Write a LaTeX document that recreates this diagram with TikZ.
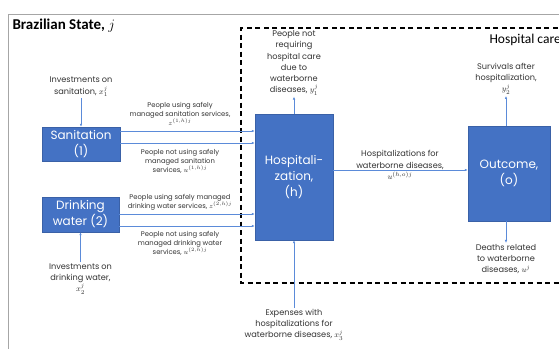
\documentclass[tikz,border=0pt]{standalone}
\usepackage{fontspec}
\setmainfont{Poppins}
\newfontfamily\titlefont{Carlito}
\usetikzlibrary{arrows.meta}
\definecolor{boxblue}{HTML}{4472C4}
\definecolor{lineblue}{HTML}{5B8BD9}
\definecolor{labelgray}{HTML}{333333}
\tikzset{
  block/.style={fill=boxblue, draw=boxblue!85!black, text=white, align=center, inner sep=0pt, font=\fontsize{12}{16}\selectfont},
  flow/.style={draw=lineblue, line width=0.7pt, -{Latex[length=3pt,width=2.5pt]}},
  lbl/.style={text=labelgray, align=center, inner sep=1pt, font=\fontsize{8.2}{11.2}\selectfont},
  sublbl/.style={lbl, font=\fontsize{6.8}{9}\selectfont},
}
\begin{document}
\begin{tikzpicture}[x=1pt,y=-1pt]
    \useasboundingbox (0,0) rectangle (559,348);
    \clip (0,0) rectangle (559,348);
    % frames
    \draw[gray!70, line width=0.8pt] (8,400) -- (8,14) -- (600,14);
    \draw[black, line width=1.2pt, dash pattern=on 5pt off 3.5pt] (600,28) -- (241,28) -- (241,283) -- (600,283);
    \node[font=\titlefont\bfseries\fontsize{15}{17}\selectfont, anchor=west] (state) at (9,26) {Brazilian State, $j$};
    \node[font=\titlefont\fontsize{13.5}{15}\selectfont, anchor=west] (care) at (486,40) {Hospital care};
    % blocks
    \node[block, minimum width=78pt, minimum height=34pt] (san) at (81,144) {Sanitation\\(1)};
    \node[block, minimum width=77pt, minimum height=35pt] (dw) at (80.5,214.5) {Drinking\\water (2)};
    \node[block, minimum width=78pt, minimum height=126pt] (hosp) at (294,177) {Hospitali-\\zation,\\(h)};
    \node[block, minimum width=82pt, minimum height=95pt] (out) at (509,173.5) {Outcome,\\(o)};
    % labels
    \node[lbl] (invsan) at (81,87) {Investments on\\sanitation, $x_1^j$};
    \node[lbl] (invdw) at (80.5,279) {Investments on\\drinking water,\\$x_2^j$};
    \node[lbl] (noreq) at (294,63) {People not\\requiring\\hospital care\\due to\\waterborne\\diseases, $y_1^j$};
    \node[lbl] (surv) at (506,79) {Survivals after\\hospitalization,\\$y_2^j$};
    \node[lbl] (death) at (506,259) {Deaths related\\to waterborne\\diseases, $u^j$};
    \node[lbl] (exp) at (294,325) {Expenses with\\hospitalizations for\\waterborne diseases, $x_3^j$};
    \node[lbl] (hoslbl) at (400,165) {Hospitalizations for\\waterborne diseases,\\$u^{(h,o)j}$};
    \node[sublbl] (sanuse) at (180,114) {People using safely\\managed sanitation services,\\$z^{(1,h)j}$};
    \node[sublbl] (sannot) at (180,161) {People not using safely\\managed sanitation\\services, $u^{(1,h)j}$};
    \node[sublbl] (dwuse) at (180,202) {People using safely managed\\drinking water services, $z^{(2,h)j}$};
    \node[sublbl] (dwnot) at (180,243) {People not using safely\\managed drinking water\\services, $u^{(2,h)j}$};
    % connectors
    \draw[flow] (invsan.south) -- (san.north);
    \draw[flow] (invdw.north) -- (dw.south);
    \draw[flow] ([yshift=13pt]san.east) -- ([yshift=13pt]san.east -| hosp.west);
    \draw[flow] ([yshift=1pt]san.east) -- ([yshift=1pt]san.east -| hosp.west);
    \draw[flow] ([yshift=0.5pt]dw.east) -- ([yshift=0.5pt]dw.east -| hosp.west);
    \draw[flow] ([yshift=-11.5pt]dw.east) -- ([yshift=-11.5pt]dw.east -| hosp.west);
    \draw[flow] ([yshift=7pt]hosp.east) -- ([yshift=7pt]hosp.east -| out.west);
    \draw[flow] (hosp.north) -- (noreq.south);
    \draw[flow] (exp.north) -- (hosp.south);
    \draw[flow] ([xshift=-3pt]out.north) -- (surv.south);
    \draw[flow] ([xshift=-3pt]out.south) -- (death.north);
\end{tikzpicture}
\end{document}
